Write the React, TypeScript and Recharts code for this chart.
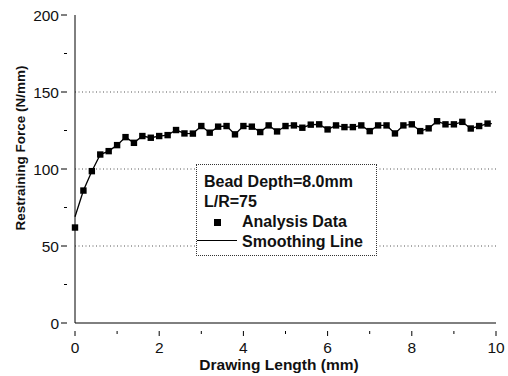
import React from 'react';
import {
  LineChart,
  Line,
  XAxis,
  YAxis,
  ReferenceLine,
} from 'recharts';

const drawingLength = [
  0, 0.2, 0.4, 0.6, 0.8, 1.0, 1.2, 1.4, 1.6, 1.8,
  2.0, 2.2, 2.4, 2.6, 2.8, 3.0, 3.2, 3.4, 3.6, 3.8,
  4.0, 4.2, 4.4, 4.6, 4.8, 5.0, 5.2, 5.4, 5.6, 5.8,
  6.0, 6.2, 6.4, 6.6, 6.8, 7.0, 7.2, 7.4, 7.6, 7.8,
  8.0, 8.2, 8.4, 8.6, 8.8, 9.0, 9.2, 9.4, 9.6, 9.8, 9.9,
];

const analysisData = [
  62, 86, 98.6, 109.4, 111.6, 115.5, 120.7, 117, 121.4, 120.3,
  121.4, 122, 125.3, 123.1, 123, 127.9, 123.6, 127.5, 127.9, 122.5,
  127.9, 127.5, 124, 128.3, 124.4, 127.9, 128.3, 126.8, 128.8, 129,
  125.7, 128.3, 127.2, 127.2, 128.3, 124.6, 128.3, 128.3, 123.1, 128.3,
  129, 124.6, 126.4, 131, 129, 129, 130.6, 126.3, 127.9, 129.5, null,
];

const smoothingLine = [
  69, 86, 98.6, 109.4, 111.6, 115.5, 120.7, 117, 121.4, 120.3,
  121.4, 122, 125.3, 123.1, 123, 127.9, 123.6, 127.5, 127.9, 122.5,
  127.9, 127.5, 124, 128.3, 124.4, 127.9, 128.3, 126.8, 128.8, 129,
  125.7, 128.3, 127.2, 127.2, 128.3, 124.6, 128.3, 128.3, 123.1, 128.3,
  129, 124.6, 126.4, 131, 129, 129, 130.6, 126.3, 127.9, 129.5, 129.5,
];

const xTicks = [0, 1, 2, 3, 4, 5, 6, 7, 8, 9, 10];
const yTicks = [0, 25, 50, 75, 100, 125, 150, 175, 200];
const gridValues = [50, 100, 150];

const chartData = drawingLength.map((x, i) => ({
  x,
  data: analysisData[i],
  smooth: smoothingLine[i],
}));

const FONT = '"Liberation Sans", Arial, sans-serif';

const SquareDot = (props: any) => {
  const { cx, cy, payload } = props;
  if (payload?.data == null || cx == null || cy == null) return null;
  return <rect x={cx - 3.2} y={cy - 3.2} width={6.4} height={6.4} fill="#000" />;
};

const XTick = (props: any) => {
  const { x, y, payload } = props;
  const major = payload.value % 2 === 0;
  return (
    <g>
      <line x1={x} x2={x} y1={y} y2={y + (major ? 5 : 3)} stroke="#000" strokeWidth={1} />
      {major && (
        <text x={x} y={y + 22} textAnchor="middle" fontSize={15.5} fontFamily={FONT} fill="#111">
          {payload.value}
        </text>
      )}
    </g>
  );
};

const YTick = (props: any) => {
  const { x, y, payload } = props;
  const major = payload.value % 50 === 0;
  return (
    <g>
      <line x1={x} x2={x - (major ? 6 : 3)} y1={y} y2={y} stroke="#000" strokeWidth={1} />
      {major && (
        <text x={x - 8} y={y + 5.5} textAnchor="end" fontSize={15.5} fontFamily={FONT} fill="#111">
          {payload.value}
        </text>
      )}
    </g>
  );
};

const XLabel = () => (
  <text x={279} y={370} textAnchor="middle" fontFamily={FONT} fontWeight="bold" fontSize={15.5} fill="#111">
    Drawing Length (mm)
  </text>
);

const YLabel = () => (
  <text
    x={25}
    y={148}
    transform="rotate(-90 25 148)"
    textAnchor="middle"
    fontFamily={FONT}
    fontWeight="bold"
    fontSize={13.5}
    fill="#111"
  >
    Restraining Force (N/mm)
  </text>
);

const LegendBox = () => (
  <div
    style={{
      position: 'absolute',
      left: 196,
      top: 164,
      width: 181,
      height: 92,
      border: '1px dotted #333',
      background: '#fff',
      fontFamily: FONT,
      fontWeight: 'bold',
      fontSize: 16,
      lineHeight: '16px',
      color: '#111',
      boxSizing: 'border-box',
      whiteSpace: 'nowrap',
    }}
  >
    <div style={{ position: 'absolute', left: 7, top: 9 }}>Bead Depth=8.0mm</div>
    <div style={{ position: 'absolute', left: 7, top: 29 }}>L/R=75</div>
    <div style={{ position: 'absolute', left: 17, top: 54, width: 7, height: 7, background: '#000' }} />
    <div style={{ position: 'absolute', left: 45, top: 49 }}>Analysis Data</div>
    <div style={{ position: 'absolute', left: 0, top: 75, width: 40, height: 1, background: '#000' }} />
    <div style={{ position: 'absolute', left: 45, top: 69 }}>Smoothing Line</div>
  </div>
);

export default function App() {
  return (
    <div style={{ position: 'absolute', left: 0, top: 0, width: 508, height: 376, background: '#fff' }}>
      <LineChart
        width={508}
        height={376}
        data={chartData}
        margin={{ top: 15, right: 12, left: 0, bottom: 0 }}
      >
        {gridValues.map((v) => (
          <ReferenceLine key={v} y={v} stroke="#555" strokeDasharray="1 2.5" strokeWidth={1} />
        ))}
        <XAxis
          dataKey="x"
          type="number"
          domain={[0, 10]}
          ticks={xTicks}
          interval={0}
          height={53}
          axisLine={{ stroke: '#000', strokeWidth: 1 }}
          tickLine={false}
          tick={<XTick />}
          label={{ content: <XLabel /> }}
        />
        <YAxis
          type="number"
          domain={[0, 200]}
          ticks={yTicks}
          interval={0}
          width={75}
          axisLine={{ stroke: '#000', strokeWidth: 1 }}
          tickLine={false}
          tick={<YTick />}
          label={{ content: <YLabel /> }}
        />
        <Line
          dataKey="smooth"
          stroke="#000"
          strokeWidth={1.3}
          dot={false}
          activeDot={false}
          isAnimationActive={false}
          connectNulls
        />
        <Line
          dataKey="data"
          stroke="none"
          dot={<SquareDot />}
          activeDot={false}
          isAnimationActive={false}
        />
      </LineChart>
      <LegendBox />
    </div>
  );
}
